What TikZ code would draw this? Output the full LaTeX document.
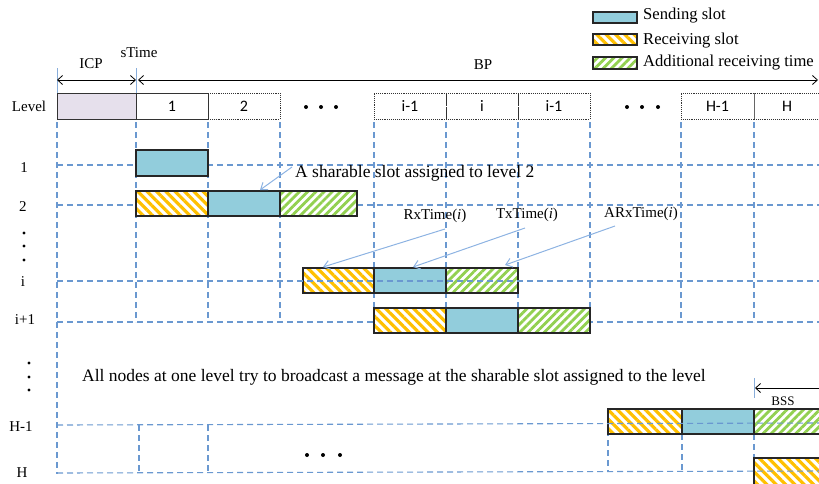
\documentclass[tikz,border=0pt]{standalone}
\usepackage{fontspec}
\setmainfont{Liberation Serif}
\newfontfamily\slotfont{Carlito}
\usetikzlibrary{arrows.meta,patterns.meta}

\definecolor{sendblue}{HTML}{92CDDC}
\definecolor{recvorange}{HTML}{FFC000}
\definecolor{addgreen}{HTML}{92D050}
\definecolor{gridblue}{HTML}{6A98D0}
\definecolor{icpfill}{HTML}{E6E0EC}
\definecolor{annot}{HTML}{8DB3E2}

\begin{document}
\begin{tikzpicture}[x=1pt,y=-1pt,
  grid/.style={gridblue, line width=1.1pt, dash pattern=on 6pt off 4pt},
  tick/.style={gridblue!80, line width=1pt},
  slot/.style={anchor=north west, inner sep=0pt, outer sep=0pt, minimum height=25pt},
  sendbox/.style={slot, draw=black!85, line width=1.1pt, fill=sendblue},
  recvbox/.style={slot, draw=black!85, line width=1.1pt, preaction={fill=white},
    pattern={Lines[angle=-45,distance=6.6pt,line width=3.2pt]}, pattern color=recvorange},
  addbox/.style={slot, draw=black!85, line width=1.1pt, preaction={fill=white},
    pattern={Lines[angle=45,distance=5.8pt,line width=2.8pt]}, pattern color=addgreen},
  hdr/.style={anchor=north west, inner sep=0pt, outer sep=0pt, minimum height=26pt,
    font=\slotfont\fontsize{16}{18}\selectfont},
  hdrsolid/.style={hdr, draw=black!80, line width=0.9pt},
  hdrdot/.style={hdr, draw=black!80, line width=0.9pt, densely dotted},
  lbl/.style={inner sep=0pt, font=\fontsize{15}{17}\selectfont},
  legendlbl/.style={inner sep=0pt, anchor=west, font=\fontsize{16.6}{19}\selectfont},
  biglbl/.style={inner sep=0pt, font=\fontsize{17.5}{20}\selectfont},
  timearrow/.style={black, line width=0.8pt, {Straight Barb[length=5pt,width=9pt]}-{Straight Barb[length=5pt,width=9pt]}},
  annarrow/.style={annot, line width=1pt, -{Straight Barb[length=6pt,width=9pt]}},
  dot/.style={black}
]
\useasboundingbox (0,0) rectangle (819,483);
\clip (0,0) rectangle (819,483);

% ---------- legend ----------
\node[sendbox, minimum width=44pt, minimum height=11pt] (lgsend) at (593,12) {};
\node[recvbox, minimum width=44pt, minimum height=11pt] (lgrecv) at (593,34) {};
\node[addbox, minimum width=44pt, minimum height=12pt] (lgadd) at (593,57) {};
\node[legendlbl] (lgsendt) at (643,16) {Sending slot};
\node[legendlbl] (lgrecvt) at (643,41) {Receiving slot};
\node[legendlbl] (lgaddt) at (643,63) {Additional receiving time};

% ---------- time axis ----------
\coordinate (icpL) at (57,80);
\coordinate (icpR) at (136,80);
\coordinate (bpL) at (138,80);
\coordinate (bpR) at (818,80);
\coordinate (tickA1) at (57,68);  \coordinate (tickA2) at (57,93);
\coordinate (tickB1) at (136,68); \coordinate (tickB2) at (136,93);
\draw[tick] (tickA1) -- (tickA2);
\draw[tick] (tickB1) -- (tickB2);
\draw[timearrow] (icpL) -- (icpR);
\draw[timearrow] (bpL) -- (bpR);
\node[lbl] (icplbl) at (91,64) {ICP};
\node[lbl] (stime) at (139,53) {sTime};
\node[lbl] (bplbl) at (483,65) {BP};

% ---------- slot header ----------
\node[lbl] (levelhdr) at (29,106) {Level};
\node[hdrsolid, fill=icpfill, minimum width=79pt] (hicp) at (57,93) {};
\node[hdrdot, minimum width=72pt] (h2) at (208,93) {2};
\node[hdrsolid, minimum width=72pt] (h1) at (136,93) {1};
\node[hdrdot, minimum width=72pt] (hia) at (374,93) {i-1};
\node[hdrdot, minimum width=72pt] (hi) at (446,93) {i};
\node[hdrdot, minimum width=72pt] (hib) at (518,93) {i-1};
\node[hdrdot, minimum width=73pt] (hH1) at (681,93) {H-1};
\node[hdrdot, minimum width=80pt] (hH) at (754,93) {\hspace*{-14pt}H};
\draw[black!60, line width=0.9pt] (hH.north west) -- (hH.south west);
\foreach \x in {306,321,336,627,642,658} \fill[dot] (\x,107) circle (2pt);

% ---------- level labels ----------
\node[lbl] (l1) at (24,168) {1};
\node[lbl] (l2) at (23,207) {2};
\node[lbl] (li) at (23,282) {i};
\node[lbl] (li1) at (25,320) {i+1};
\node[lbl] (lH1) at (21,427) {H-1};
\node[lbl] (lH) at (22,473) {H};
\foreach \y in {233,246,260} \fill[dot] (24,\y) circle (1.7pt);
\foreach \y in {363,377,390} \fill[dot] (29,\y) circle (1.7pt);

% ---------- grid (behind the slots) ----------
\foreach \x in {136,208,280,374,446,518,590,681,754}
  \draw[grid] (\x,122) -- (\x,322);
\draw[grid] (57,122) -- (57,474);
\foreach \y in {165,205,322}
  \draw[grid] (57,\y) -- (819,\y);
\draw[grid] (139,425) -- (139,472);
\draw[grid] (208,425) -- (208,472);
\draw[grid] (608,420) -- (608,472);
\draw[grid] (682,434) -- (682,472);
\draw[grid] (754,434) -- (754,483);

% ---------- slots per level ----------
\node[sendbox, minimum width=72pt, minimum height=26pt] (s1) at (136,150) {};

\node[recvbox, minimum width=72pt] (r2) at (136,191) {};
\node[sendbox, minimum width=72pt] (s2) at (208,191) {};
\node[addbox, minimum width=77pt] (a2) at (280,191) {};

\node[recvbox, minimum width=71pt] (ri) at (303,268) {};
\node[sendbox, minimum width=72pt] (si) at (374,268) {};
\node[addbox, minimum width=72pt] (ai) at (446,268) {};

\node[recvbox, minimum width=72pt] (rj) at (374,308) {};
\node[sendbox, minimum width=72pt] (sj) at (446,308) {};
\node[addbox, minimum width=72pt] (aj) at (518,308) {};

\node[recvbox, minimum width=74pt] (rH1) at (608,409) {};
\node[sendbox, minimum width=72pt] (sH1) at (682,409) {};
\node[addbox, minimum width=80pt] (aH1) at (754,409) {};

\node[recvbox, minimum width=80pt, minimum height=40pt] (rH) at (754,458) {};

% ---------- grid lines crossing over the slots ----------
\draw[grid] (57,281) -- (819,281);
\draw[grid] (57,425) -- (819,423);
\draw[grid] (57,473) -- (819,471);

% ---------- BSS marker ----------
\coordinate (bss1) at (754,378);
\coordinate (bss2) at (754,398);
\coordinate (bssL) at (755,388);
\coordinate (bssR) at (819,388);
\draw[tick] (bss1) -- (bss2);
\draw[black, line width=0.8pt, {Straight Barb[length=5pt,width=9pt]}-] (bssL) -- (bssR);
\node[inner sep=0pt, font=\fontsize{13}{15}\selectfont] (bss) at (783,401) {BSS};

% ---------- annotations ----------
\node[biglbl, anchor=west] (share) at (295,173) {A sharable slot assigned to level 2};
\coordinate (sharefrom) at (292,167);
\coordinate (shareto) at (260,190);
\draw[annarrow] (sharefrom) -- (shareto);

\node[lbl] (rxlbl) at (435,216) {RxTime(\textit{i})};
\node[lbl] (txlbl) at (527,215) {TxTime(\textit{i})};
\node[lbl] (arxlbl) at (641,214) {ARxTime(\textit{i})};
\coordinate (rxfrom) at (445,229);  \coordinate (rxto) at (323,267);
\coordinate (txfrom) at (525,228);  \coordinate (txto) at (413,267);
\coordinate (arxfrom) at (615,226); \coordinate (arxto) at (505,265);
\draw[annarrow] (rxfrom) -- (rxto);
\draw[annarrow] (txfrom) -- (txto);
\draw[annarrow] (arxfrom) -- (arxto);

\node[biglbl, anchor=west] (allnodes) at (82,377)
  {All nodes at one level try to broadcast a message at the sharable slot assigned to the level};

\foreach \x in {307,323,340} \fill[dot] (\x,455) circle (2pt);
\end{tikzpicture}
\end{document}
